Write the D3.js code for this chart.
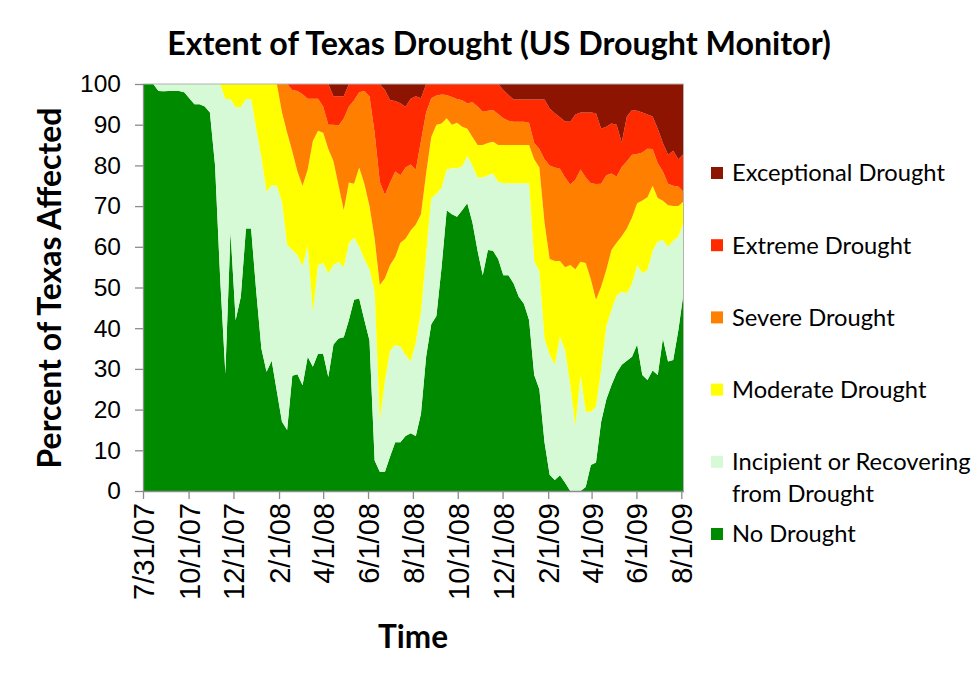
<!DOCTYPE html>
<html>
<head>
<meta charset="utf-8">
<script src="https://cdn.jsdelivr.net/npm/d3@7"></script>
<style>
  body { margin: 0; background: #fff; }
  svg { display: block; font-family: Lato, "Open Sans", "Liberation Sans", sans-serif; }
</style>
</head>
<body>
<svg id="chart" width="980" height="673"></svg>
<script>
// Weekly US Drought Monitor statistics for Texas (percent of area), maps dated each Tuesday.
const firstMap = "2007-07-31";

// Percent of area with no drought
const noDrought = [
  100, 100, 100, 98.3, 98.2, 98.3, 98.3, 98.3, 98, 96.5,
  95, 95, 94.5, 93, 80, 52, 29, 63.7, 42, 47.7,
  64.5, 64.5, 49, 35, 29.3, 32, 24.5, 17, 15, 28.3,
  28.7, 26, 33, 30.5, 33.7, 33.7, 28, 36, 37.5, 37.8,
  42, 47, 47.3, 42, 37, 7.5, 4.7, 4.7, 8.5, 12,
  12, 13.5, 14.2, 13.5, 19, 33, 41, 43, 55, 69,
  68, 67.4, 69, 70.7, 66, 59, 53, 59.2, 59, 57,
  53, 53, 51, 47.7, 46, 42, 28.5, 25, 12, 4,
  2.7, 3.9, 2, 0, 0, 0, 1, 6.4, 7, 17,
  22.5, 26, 29, 31, 32, 33, 36, 28.5, 27.3, 29.6,
  28.5, 37.5, 31.8, 32.2, 39.5, 48.6
];

// Percent of area in D1 (moderate) or worse
const d1to4 = [
  0, 0, 0, 0, 0, 0, 0, 0, 0, 0,
  0, 0, 0, 0, 0, 0, 3.7, 3.7, 5.7, 5.7,
  3.7, 3.7, 11, 18, 26.5, 24.8, 25, 29, 39.5, 40.8,
  42, 44.7, 39.8, 56, 44.5, 44, 46.5, 44.5, 43.7, 45,
  39.1, 37.7, 40, 43, 45.5, 51, 82.6, 73, 65.5, 64.1,
  64.5, 66.5, 68.2, 63.5, 56, 42, 28, 27, 25.5, 21,
  20.7, 20.7, 20.3, 17.7, 20, 23, 23, 22.4, 22, 24,
  24.4, 24.4, 24.4, 24.4, 24.4, 24.4, 43.5, 46, 62.5, 66.5,
  69, 62.1, 65.4, 74, 84, 71.5, 80.5, 80.5, 79.3, 70.3,
  59.5, 55.5, 52, 51, 51.4, 49, 44.5, 46.5, 45.7, 41,
  38.7, 38.3, 40, 38.5, 37.5, 34
];

// Percent of area in D2 (severe) or worse
const d2to4 = [
  0, 0, 0, 0, 0, 0, 0, 0, 0, 0,
  0, 0, 0, 0, 0, 0, 0, 0, 0, 0,
  0, 0, 0, 0, 0, 0, 0, 7, 12, 16.5,
  21.5, 25, 21, 14, 11.5, 12, 16, 19, 25, 31,
  24.2, 24.5, 20.5, 24.5, 30, 38, 49.4, 47.7, 44.5, 42.5,
  39, 38, 36, 34.5, 32, 22, 13, 10, 9.7, 8.4,
  10, 9.5, 10.5, 11, 13, 15, 15, 14.5, 14.2, 15,
  15, 15, 15, 15, 15, 15, 18.5, 20.5, 34, 43,
  43.5, 43.5, 45, 44.5, 45.5, 43.7, 44, 48, 53, 49.8,
  45.7, 40.8, 39, 37.4, 35.5, 32.8, 29.3, 28.6, 27.8, 25,
  28, 28.7, 29.8, 30, 30, 28.9
];

// Percent of area in D3 (extreme) or worse
const d3to4 = [
  0, 0, 0, 0, 0, 0, 0, 0, 0, 0,
  0, 0, 0, 0, 0, 0, 0, 0, 0, 0,
  0, 0, 0, 0, 0, 0, 0, 0, 0, 1.5,
  1.7, 2.5, 3.6, 3.6, 3.6, 5.5, 10, 10, 10.2, 8.5,
  5.5, 4, 2, 1.7, 3, 12, 24, 27.3, 24.2, 21.5,
  22.4, 20.5, 19.8, 21, 14, 7, 3.5, 2.8, 2.6, 2.7,
  3.2, 3.7, 4, 4.7, 4.5, 5.5, 6.8, 6.6, 6.4, 7.4,
  8.4, 9, 9.3, 9.3, 9.3, 9.5, 14.5, 16, 18.5, 20,
  20.5, 20.8, 23, 24.7, 23.5, 21, 23, 24.4, 24.6, 24.5,
  22.4, 22, 22.7, 20.4, 19, 17.4, 17.2, 16.8, 15.9, 16,
  19.5, 21.5, 24.5, 25, 25.2, 26.5
];

// Percent of area in D4 (exceptional)
const d4 = [
  0, 0, 0, 0, 0, 0, 0, 0, 0, 0,
  0, 0, 0, 0, 0, 0, 0, 0, 0, 0,
  0, 0, 0, 0, 0, 0, 0, 0, 0, 0,
  0, 0, 0, 0, 0, 0, 0, 3, 3, 3,
  0, 0, 0, 0, 0, 0, 0, 1.5, 4, 4.2,
  4.7, 5.6, 3.6, 3, 3.5, 0, 0, 0, 0, 0,
  0, 0, 0, 0, 0, 0, 0, 0, 0, 0,
  1.5, 2.7, 3.8, 3.8, 3.8, 3.8, 3.8, 3.8, 3.8, 6,
  7.2, 8.2, 9.2, 9.3, 7.5, 7, 7, 7, 7.2, 11,
  10.5, 9.7, 10, 14.4, 8, 6.4, 6.6, 7, 7.5, 8,
  11, 14.5, 17.4, 16.4, 18.5, 17.2
];

const categories = [
  "No Drought",
  "Incipient or Recovering from Drought",
  "Moderate Drought",
  "Severe Drought",
  "Extreme Drought",
  "Exceptional Drought"
];
const categoryColors = ["#008a00", "#d5fad5", "#ffff00", "#ff8000", "#ff2a00", "#8c1400"];

const dateTickLabels = ["7/31/07", "10/1/07", "12/1/07", "2/1/08", "4/1/08", "6/1/08", "8/1/08",
                        "10/1/08", "12/1/08", "2/1/09", "4/1/09", "6/1/09", "8/1/09"];
const percentTicks = [0, 10, 20, 30, 40, 50, 60, 70, 80, 90, 100];

// ---- build one row per weekly map, split into exclusive categories ----
const start = d3.utcParse("%Y-%m-%d")(firstMap);
const rows = noDrought.map((v, i) => ({
  date: d3.utcDay.offset(start, 7 * i),
  [categories[0]]: v,
  [categories[1]]: 100 - v - d1to4[i],
  [categories[2]]: d1to4[i] - d2to4[i],
  [categories[3]]: d2to4[i] - d3to4[i],
  [categories[4]]: d3to4[i] - d4[i],
  [categories[5]]: d4[i]
}));
const series = d3.stack().keys(categories)(rows);

const svg = d3.select("#chart");
const plot = { left: 143, right: 683.5, top: 84, bottom: 491 };

const x = d3.scaleUtc()
  .domain(d3.extent(rows, d => d.date))
  .range([plot.left, plot.right]);
const y = d3.scaleLinear().domain([0, 100]).range([plot.bottom, plot.top]);
const color = d3.scaleOrdinal().domain(categories).range(categoryColors);

// fit a text element to a given width by scaling its font size
function fitWidth(sel, target) {
  const w = sel.node().getComputedTextLength();
  const fs = parseFloat(sel.style("font-size"));
  sel.style("font-size", (fs * target / w) + "px");
  return fs * target / w;
}

// ---- stacked areas ----
const area = d3.area()
  .x(d => x(d.data.date))
  .y0(d => y(d[0]))
  .y1(d => y(d[1]));

svg.append("g")
  .selectAll("path")
  .data(series)
  .join("path")
  .attr("fill", d => color(d.key))
  .attr("d", area);

// ---- plot frame (top and right) ----
svg.append("path")
  .attr("d", `M${plot.left},${plot.top}H${plot.right}V${plot.bottom}`)
  .attr("fill", "none")
  .attr("stroke", "#b3b3b3")
  .attr("stroke-width", 1);

// ---- axes ----
const axisColor = "#8c8c8c";
const parseTick = d3.utcParse("%m/%d/%y");
const tickDates = dateTickLabels.map(parseTick);

const xAxis = svg.append("g")
  .attr("transform", `translate(0,${plot.bottom})`)
  .call(d3.axisBottom(x)
    .tickValues(tickDates)
    .tickFormat(d3.utcFormat("%-m/%-d/%y"))
    .tickSize(8)
    .tickSizeOuter(0));
xAxis.select(".domain").attr("stroke", axisColor).attr("stroke-width", 1.3);
xAxis.selectAll(".tick line").attr("stroke", axisColor).attr("stroke-width", 1.3);
const xLabels = xAxis.selectAll(".tick text")
  .attr("fill", "#000")
  .attr("transform", "rotate(-90)")
  .attr("x", -12)
  .attr("y", 0)
  .attr("dy", "0.36em")
  .style("text-anchor", "end")
  .style("font-size", "22px");
const xFs = fitWidth(xLabels.filter((d, i) => i === 0), 97);
xLabels.style("font-size", xFs + "px");

const yAxis = svg.append("g")
  .attr("transform", `translate(${plot.left},0)`)
  .call(d3.axisLeft(y)
    .tickValues(percentTicks)
    .tickSize(8)
    .tickPadding(14)
    .tickSizeOuter(0));
yAxis.select(".domain").attr("stroke", axisColor).attr("stroke-width", 1.3);
yAxis.selectAll(".tick line").attr("stroke", axisColor).attr("stroke-width", 1.3);
const yLabels = yAxis.selectAll(".tick text")
  .attr("fill", "#000")
  .style("font-size", "22px");
const yFs = fitWidth(yLabels.filter(d => d === 100), 41);
yLabels.style("font-size", yFs + "px");

// ---- titles ----
const title = svg.append("text")
  .attr("x", 499).attr("y", 44)
  .attr("dy", "0.35em")
  .attr("text-anchor", "middle")
  .style("font-weight", "bold")
  .style("font-size", "28px")
  .text("Extent of Texas Drought (US Drought Monitor)");
fitWidth(title, 664);

const yTitle = svg.append("text")
  .attr("transform", "translate(50,288) rotate(-90)")
  .attr("dy", "0.35em")
  .attr("text-anchor", "middle")
  .style("font-weight", "bold")
  .style("font-size", "26px")
  .text("Percent of Texas Affected");
fitWidth(yTitle, 361);

const xTitle = svg.append("text")
  .attr("x", 413).attr("y", 637)
  .attr("dy", "0.35em")
  .attr("text-anchor", "middle")
  .style("font-weight", "bold")
  .style("font-size", "28px")
  .text("Time");
fitWidth(xTitle, 70);

// ---- legend (worst category on top) ----
const legendItems = [
  { key: categories[5], lines: ["Exceptional Drought"] },
  { key: categories[4], lines: ["Extreme Drought"] },
  { key: categories[3], lines: ["Severe Drought"] },
  { key: categories[2], lines: ["Moderate Drought"] },
  { key: categories[1], lines: ["Incipient or Recovering", "from Drought"] },
  { key: categories[0], lines: ["No Drought"] }
];
const legend = svg.append("g").attr("transform", "translate(711,173)");
const item = legend.selectAll("g")
  .data(legendItems)
  .join("g")
  .attr("transform", (d, i) => `translate(0,${i * 72.2})`);
item.append("rect")
  .attr("x", 0).attr("y", -6)
  .attr("width", 12).attr("height", 12)
  .attr("fill", d => color(d.key));
const legendText = item.append("text")
  .attr("x", 21)
  .style("font-size", "22px");
legendText.selectAll("tspan")
  .data(d => d.lines)
  .join("tspan")
  .attr("x", 21)
  .attr("y", (d, i) => i * 32)
  .attr("dy", "0.35em")
  .text(d => d);
const legFs = fitWidth(legendText.filter(d => d.key === categories[5]), 213);
legendText.style("font-size", legFs + "px");
</script>
</body>
</html>
